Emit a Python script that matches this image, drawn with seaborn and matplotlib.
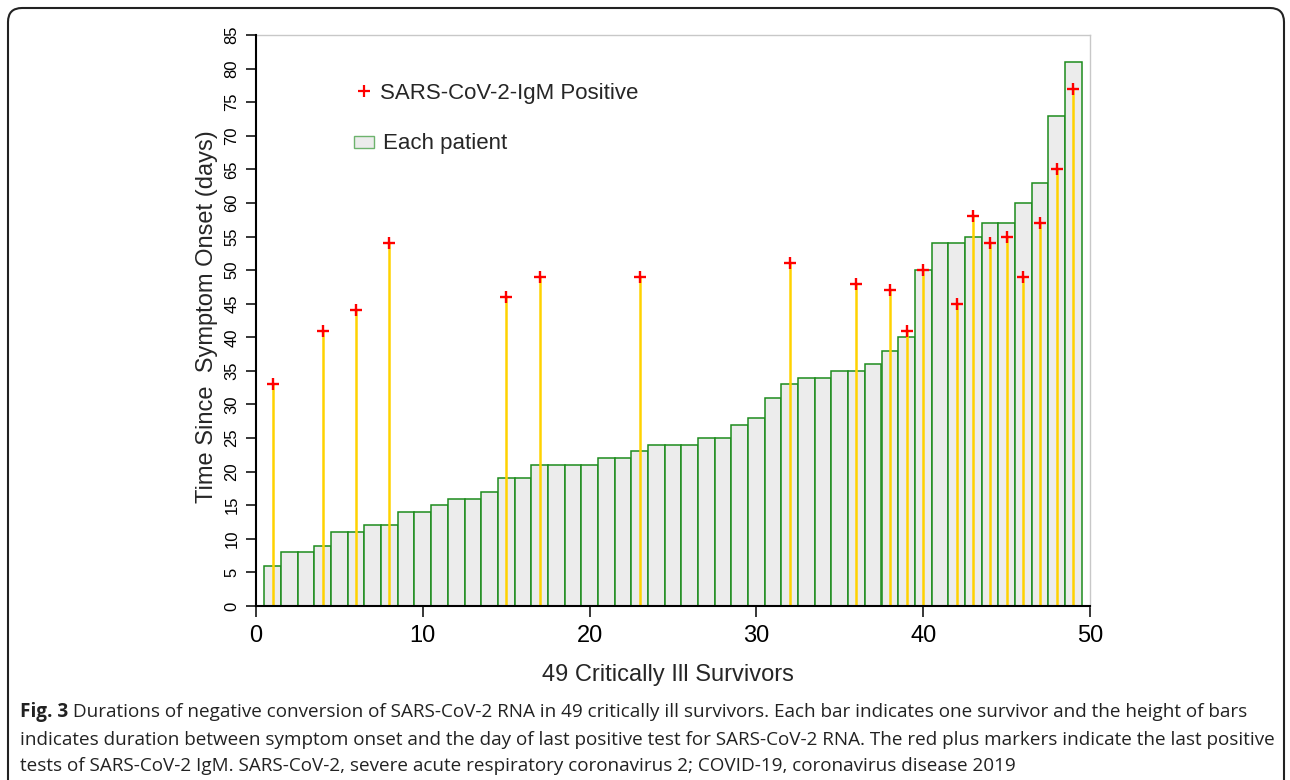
import numpy as np
import pandas as pd
import matplotlib
matplotlib.use("Agg")
import matplotlib.pyplot as plt
import seaborn as sns
from matplotlib.patches import FancyBboxPatch, Rectangle
from matplotlib.transforms import IdentityTransform

# ---------------- data ----------------
patients = list(range(1, 50))
rna_days = [6, 8, 8, 9, 11, 11, 12, 12, 14, 14,
            15, 16, 16, 17, 19, 19, 21, 21, 21, 21,
            22, 22, 23, 24, 24, 24, 25, 25, 27, 28,
            31, 33, 34, 34, 35, 35, 36, 38, 40, 50,
            54, 54, 55, 57, 57, 60, 63, 73, 81]
igm_patients = [1, 4, 6, 8, 15, 17, 23, 32, 36, 38, 39, 40, 42, 43, 44, 45, 46, 47, 48, 49]
igm_days = [33, 41, 44, 54, 46, 49, 49, 51, 48, 47, 41, 50, 45, 58, 54, 55, 49, 57, 65, 77]
x_ticks = [0, 10, 20, 30, 40, 50]
y_ticks = list(range(0, 86, 5))
legend_labels = ["SARS-CoV-2-IgM Positive", "Each patient"]
x_label = "49 Critically Ill Survivors"
y_label = "Time Since  Symptom Onset (days)"
caption_bold = "Fig. 3"
caption_lines = [
    " Durations of negative conversion of SARS-CoV-2 RNA in 49 critically ill survivors. Each bar indicates one survivor and the height of bars",
    "indicates duration between symptom onset and the day of last positive test for SARS-CoV-2 RNA. The red plus markers indicate the last positive",
    "tests of SARS-CoV-2 IgM. SARS-CoV-2, severe acute respiratory coronavirus 2; COVID-19, coronavirus disease 2019",
]

df = pd.DataFrame({"patient": patients, "days": rna_days})

sns.set_style("white")
plt.rcParams["font.family"] = ["Liberation Sans", "DejaVu Sans"]

W, H = 1290, 780
fig = plt.figure(figsize=(W / 100, H / 100), dpi=100)
ax_l, ax_r, ax_b, ax_t = 256, 1090, 606, 35
ax = fig.add_axes([ax_l / W, 1 - ax_b / H, (ax_r - ax_l) / W, (ax_b - ax_t) / H])

GREEN = "#1d8c1d"
sns.barplot(data=df, x="patient", y="days", native_scale=True, width=1,
            color="#ececec", saturation=1, edgecolor=GREEN, linewidth=1.1,
            errorbar=None, ax=ax, zorder=2)
ax.vlines(igm_patients, 0, igm_days, color="#FFD200", lw=1.8, zorder=3)
ax.plot(igm_patients, igm_days, ls="none", marker="+", ms=9, mew=1.7,
        color="red", zorder=4)

ax.set_xlim(0, 50)
ax.set_ylim(0, 85)
ax.set_xticks(x_ticks)
ax.set_xticklabels([str(t) for t in x_ticks])
ax.set_yticks(y_ticks)
ax.set_yticklabels([str(t) for t in y_ticks])
ax.tick_params(axis="x", direction="out", length=8, width=1.1, pad=6, labelsize=17,
               bottom=True, colors="black")
ax.tick_params(axis="y", direction="out", length=7, width=1.1, pad=5, labelsize=12,
               left=True, labelrotation=90, colors="black")
for lab in ax.get_yticklabels():
    lab.set_va("center")

for s in ["left", "bottom"]:
    ax.spines[s].set_color("black")
    ax.spines[s].set_linewidth(1.5)
for s in ["top", "right"]:
    ax.spines[s].set_color("#c8c8c8")
    ax.spines[s].set_linewidth(1.0)
ax.spines["left"].set_zorder(5)
ax.spines["bottom"].set_zorder(5)

ax.set_xlabel(x_label, fontsize=17)
ax.xaxis.set_label_coords((667.5 - ax_l) / (ax_r - ax_l), -(680.5 - ax_b) / (ax_b - ax_t))
ax.xaxis.label.set_va("baseline")
ax.set_ylabel(y_label, fontsize=17)
ax.yaxis.set_label_coords((213 - ax_l) / (ax_r - ax_l), (ax_b - 316.5) / (ax_b - ax_t))
ax.yaxis.label.set_va("baseline")

# legend (manual, positioned like the reference)
def ax_frac(px, py):
    return ((px - ax_l) / (ax_r - ax_l), (ax_b - py) / (ax_b - ax_t))

mx, my = ax_frac(364, 91)
ax.plot([mx], [my], transform=ax.transAxes, marker="+", ms=8, mew=1.6,
        color="red", ls="none", clip_on=False, zorder=6)
tx, ty = ax_frac(380, 98.5)
ax.text(tx, ty, legend_labels[0], transform=ax.transAxes, fontsize=16,
        ha="left", va="baseline")
rx0, ry0 = ax_frac(354, 148)
rx1, ry1 = ax_frac(374, 136)
ax.add_patch(Rectangle((rx0, ry0), rx1 - rx0, ry1 - ry0, transform=ax.transAxes,
                       facecolor="#ececec", edgecolor="#6db36d", lw=1.0, clip_on=False, zorder=6))
tx2, ty2 = ax_frac(383, 149)
ax.text(tx2, ty2, legend_labels[1], transform=ax.transAxes, fontsize=16,
        ha="left", va="baseline")

# outer rounded frame
frame = FancyBboxPatch((8, -30), 1276, 772 + 30, boxstyle="round,pad=0,rounding_size=14",
                       transform=IdentityTransform(), facecolor="none",
                       edgecolor="#222222", lw=1.5, clip_on=False)
fig.add_artist(frame)

# caption
cap_family = ["Open Sans", "DejaVu Sans"]
renderer = fig.canvas.get_renderer()
test = fig.text(0, 0, caption_lines[1], fontsize=12, family=cap_family)
wpx = test.get_window_extent(renderer).width
test.remove()
cap_size = 12 * (1252 / wpx)
baselines = [717, 745, 771]
x0 = 20
tb = fig.text(x0 / W, 1 - baselines[0] / H, caption_bold, fontsize=cap_size,
              family=cap_family, weight="bold", color="#222222", va="baseline")
bw = tb.get_window_extent(renderer).width
fig.text((x0 + bw) / W, 1 - baselines[0] / H, caption_lines[0], fontsize=cap_size,
         family=cap_family, color="#222222", va="baseline")
for line, b in zip(caption_lines[1:], baselines[1:]):
    fig.text(x0 / W, 1 - b / H, line, fontsize=cap_size, family=cap_family,
             color="#222222", va="baseline")

fig.savefig("out.png", dpi=100)
